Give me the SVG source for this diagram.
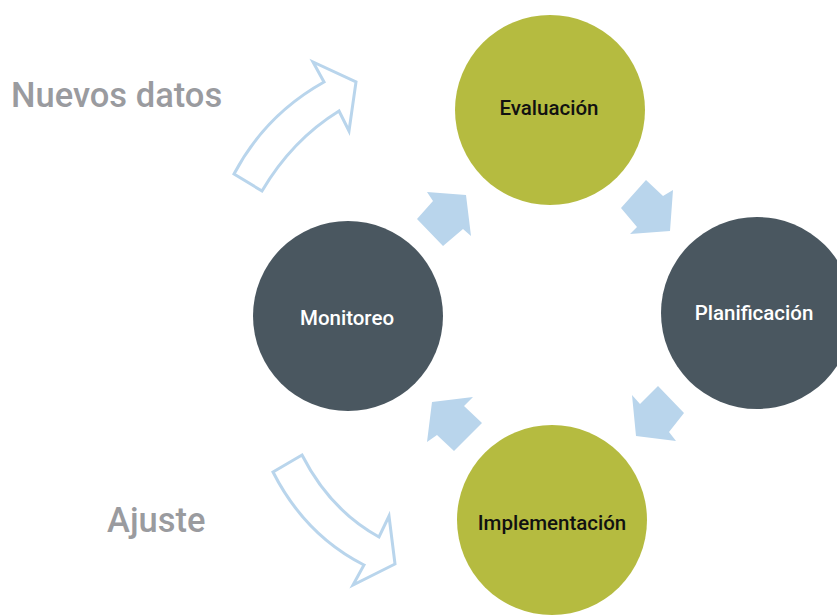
<svg xmlns="http://www.w3.org/2000/svg" width="837" height="615" viewBox="0 0 837 615">
<style>
.olive{fill:#b5bb40}
.dark{fill:#4a5760}
.lbl{font-family:Roboto,"Liberation Sans",sans-serif;font-size:20.5px;font-weight:500;text-anchor:middle}
.side{font-family:Roboto,"Liberation Sans",sans-serif;font-size:34.5px;font-weight:500;fill:#9a9b9f}
.blk{fill:#111}
.wht{fill:#fff}
.solid{fill:#b9d5ec}
.outline{fill:#fff;stroke:#b9d5ec;stroke-width:3;stroke-linejoin:miter}
</style>
<rect width="837" height="615" fill="#fff"/>
<g id="connectors">
<polygon class="solid" points="427,192 466,195 471,236 463,229 443,246 417,219 433,201"/>
<polygon class="solid" points="646,180 663,196 673,190 670,231 630,234 637,227 621,208"/>
<polygon class="solid" points="658,386 684,413 669,432 676,441 636,436 632,395 640,404"/>
<polygon class="solid" points="473,397 464,406 482,423 454,451 437,435 427,442 432,402"/>
<path class="outline" d="M234,174 L262,191 Q292,140 339,111 L349,131 L356,82 L313,62 L324,82 Q265,115 234,174 Z"/>
<path class="outline" d="M273,472 L302,455 Q330,510 379,537 L389,516 L395,564 L353,585 L364,565 Q305,535 273,472 Z"/>
</g>
<g id="evaluacion">
<circle class="olive" cx="550" cy="110" r="95"/>
<text class="lbl blk" x="549" y="115">Evaluación</text>
</g>
<g id="planificacion">
<circle class="dark" cx="757" cy="313" r="96"/>
<text class="lbl wht" x="754" y="320">Planificación</text>
</g>
<g id="implementacion">
<circle class="olive" cx="552" cy="520" r="95"/>
<text class="lbl blk" x="552" y="530">Implementación</text>
</g>
<g id="monitoreo">
<circle class="dark" cx="348" cy="316" r="95"/>
<text class="lbl wht" x="347" y="325">Monitoreo</text>
</g>
<g id="labels">
<text class="side" x="11" y="107">Nuevos datos</text>
<text class="side" x="107" y="532">Ajuste</text>
</g>
</svg>
